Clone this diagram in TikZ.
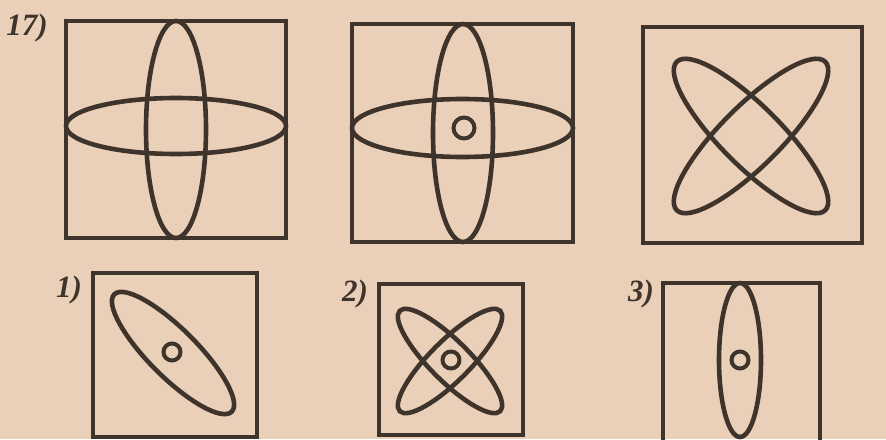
\documentclass[tikz,border=0pt]{standalone}
\usepackage{fontspec}
\setmainfont{Liberation Serif}
\usepackage{xcolor}
\usepackage{tikz}
\definecolor{paper}{RGB}{234,208,184}
\definecolor{ink}{RGB}{62,52,44}

\tikzset{
  tasklabel/.style={font=\fontsize{31}{33}\selectfont\bfseries\itshape, text=ink, inner sep=0pt},
  frame/.style={draw=ink, line width=4.8pt},
  orbit/.style={draw=ink, line width=4.6pt},
  dot/.style={draw=ink, line width=4pt}
}

\begin{document}
\begin{tikzpicture}[x=1pt, y=-1pt]
            \fill[paper] (0,0) rectangle (886,439);
            \clip (0,0) rectangle (886,439);

            % Task 17
            \node[tasklabel] (q17) at (27,28) {17)};

            % First figure
            \draw[frame] (66,21) rectangle (286,238);
            \draw[orbit] (176,129.5) ellipse (30 and 108.5);
            \draw[orbit] (176,126) ellipse (110 and 28);

            % Second figure
            \draw[frame] (352,24) rectangle (573,242);
            \draw[orbit] (463,133) ellipse (30 and 109);
            \draw[orbit] (462.5,128) ellipse (110.5 and 29);
            \draw[dot] (464,128) circle (10.5);

            % Third figure
            \draw[frame] (643,27) rectangle (862,243);
            \draw[orbit, rotate around={45:(751,136)}] (751,136) ellipse (105 and 30);
            \draw[orbit, rotate around={-45:(751,136)}] (751,136) ellipse (105 and 30);

            % Answer 1
            \node[tasklabel] (a1) at (69,290) {1)};
            \draw[frame] (93,273) rectangle (257,437);
            \draw[orbit, rotate around={-45:(173,353)}] (173,353) ellipse (83 and 24);
            \draw[dot] (172,352) circle (8.5);

            % Answer 2
            \node[tasklabel] (a2) at (355,294) {2)};
            \draw[frame] (379,284) rectangle (523,435);
            \draw[orbit, rotate around={45:(450,361)}] (450,361) ellipse (71 and 20);
            \draw[orbit, rotate around={-45:(450,361)}] (450,361) ellipse (71 and 20);
            \draw[dot] (451,360) circle (8.5);

            % Answer 3
            \node[tasklabel] (a3) at (641,294) {3)};
            \draw[frame] (663,283) rectangle (820,445);
            \draw[orbit] (740,360) ellipse (21 and 77);
            \draw[dot] (740,360) circle (8.5);
        \end{tikzpicture}
\end{document}
